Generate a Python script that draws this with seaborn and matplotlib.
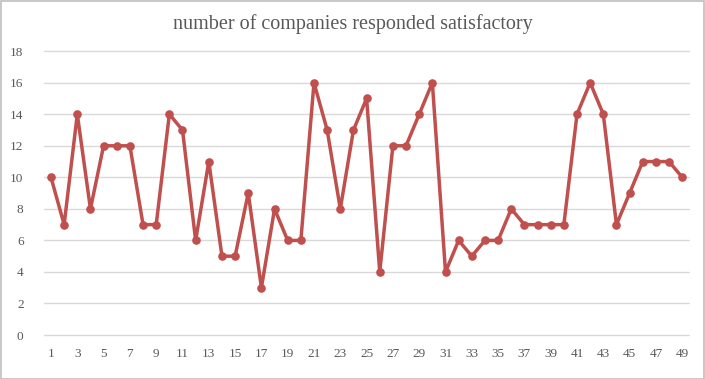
import seaborn as sns
import matplotlib.pyplot as plt
import pandas as pd

# data
companies = list(range(1, 50))
satisfied = [10, 7, 14, 8, 12, 12, 12, 7, 7, 14,
             13, 6, 11, 5, 5, 9, 3, 8, 6, 6,
             16, 13, 8, 13, 15, 4, 12, 12, 14, 16,
             4, 6, 5, 6, 6, 8, 7, 7, 7, 7,
             14, 16, 14, 7, 9, 11, 11, 11, 10]
y_ticks = list(range(0, 19, 2))
x_labels = [str(c) for c in companies if c % 2 == 1]

df = pd.DataFrame({"company": companies, "satisfied": satisfied})

sns.set_theme(style="white")
plt.rcParams['font.family'] = ['Liberation Serif', 'DejaVu Serif']

fig = plt.figure(figsize=(7.05, 3.79), dpi=100)
ax = fig.add_axes([0.063, 0.116, 0.914, 0.749])

sns.lineplot(x="company", y="satisfied", data=df, ax=ax, color="#C0504D",
             linewidth=2.5, marker="o", markersize=6.2, markeredgewidth=0,
             clip_on=False)

ax.set_xlim(0.5, 49.5)
ax.set_ylim(0, 18)
ax.set_yticks(y_ticks)
ax.set_xticks([c for c in companies if c % 2 == 1])
ax.set_xticklabels(x_labels)
ax.yaxis.grid(True, color="#D9D9D9", linewidth=1.0, clip_on=False)
for line in ax.get_ygridlines():
    line.set_clip_on(False)
ax.set_axisbelow(True)
for s in ax.spines.values():
    s.set_visible(False)
ax.tick_params(axis='both', length=0, labelsize=9.5, labelcolor="#595959")
ax.tick_params(axis='y', pad=15)
ax.tick_params(axis='x', pad=9)
ax.set_xlabel("")
ax.set_ylabel("")

fig.text(0.5, 0.937, "number of companies responded satisfactory",
         ha="center", va="center", fontsize=14.5, color="#595959")

# outer frame of the chart area
fig.patches.append(plt.Rectangle((0.001, 0.001), 0.997, 0.997, transform=fig.transFigure,
                                 fill=False, edgecolor="#BFBFBF", linewidth=1.2))

fig.savefig("out.png", dpi=100)
